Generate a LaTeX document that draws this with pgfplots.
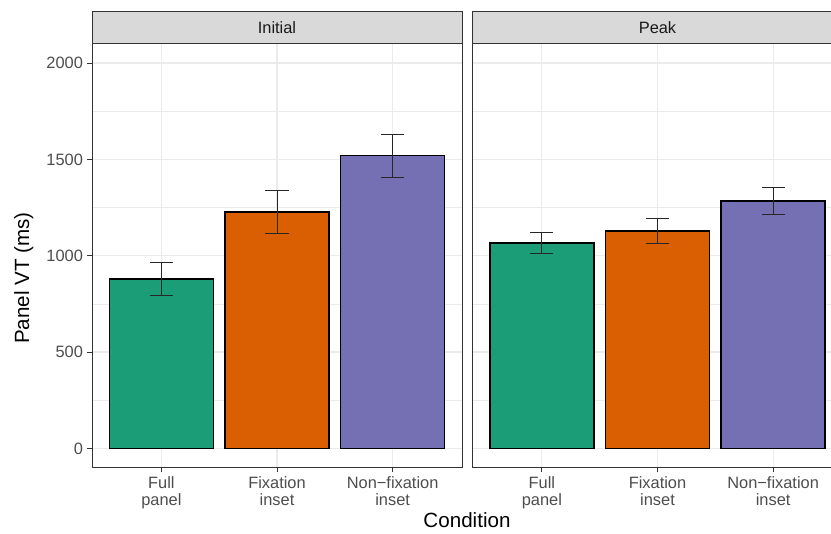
\documentclass[border=0pt]{standalone}
\usepackage{fontspec}
\setmainfont{Liberation Sans}
\usepackage{pgfplots}
\pgfplotsset{compat=1.18}
\definecolor{dgreen}{HTML}{1B9E77}
\definecolor{dorange}{HTML}{D95F02}
\definecolor{dpurple}{HTML}{7570B3}
\definecolor{gridc}{HTML}{EBEBEB}
\definecolor{gtwenty}{HTML}{333333}
\definecolor{gthirty}{HTML}{4D4D4D}
\definecolor{stripc}{HTML}{D9D9D9}
\definecolor{gten}{HTML}{1A1A1A}
\newcommand{\tickfont}{\fontsize{16.4}{17}\selectfont}
\newcommand{\titlefont}{\fontsize{20.6}{22}\selectfont}
\pgfplotsset{
  panel/.style={
    scale only axis, width=370pt, height=423.5pt,
    xmin=0.4, xmax=3.6, ymin=-99, ymax=2099,
    xtick={1,2,3},
    xticklabels={{Full\\panel},{Fixation\\inset},{Non−fixation\\inset}},
    xticklabel style={align=center, font=\tickfont, text=gthirty, yshift=-0.5pt},
    yticklabel style={font=\tickfont, text=gthirty, xshift=-0.5pt},
    ytick={0,500,1000,1500,2000},
    minor ytick={250,750,1250,1750},
    minor tick length=0pt,
    major tick length=5pt,
    tick align=outside, tick pos=left,
    tick style={gtwenty, line width=0.9pt},
    axis line style={gtwenty, line width=1pt},
    grid=both,
    major grid style={gridc, line width=1.2pt},
    minor grid style={gridc, line width=0.6pt},
    /pgf/number format/assume math mode=true,
    /pgf/number format/set thousands separator={},
    ybar, bar width=0.9,
  },
  barp/.style={fill=#1, draw=black, line width=1.4pt, bar shift=0pt,
    /pgfplots/error bars/y dir=both,
    /pgfplots/error bars/y explicit,
    /pgfplots/error bars/error bar style={black!85, line width=0.9pt},
    /pgfplots/error bars/error mark options={black!85, line width=0.9pt, mark size=11.6pt, rotate=90}},
}
\begin{document}
\begin{tikzpicture}
\path[use as bounding box, clip] (0pt,0pt) rectangle (831pt,534pt);
\fill[white] (0pt,0pt) rectangle (831pt,534pt);
\begin{axis}[panel, name=ax1, at={(92pt,66.5pt)}, anchor=south west]
\addplot[barp=dgreen] coordinates {(1,880) +- (0,87)};
\addplot[barp=dorange] coordinates {(2,1228) +- (0,110)};
\addplot[barp=dpurple] coordinates {(3,1519) +- (0,113)};
\end{axis}
\begin{axis}[panel, name=ax2, at={(472.5pt,66.5pt)}, anchor=south west, yticklabels={}, ytick style={draw=none}]
\addplot[barp=dgreen] coordinates {(1,1066) +- (0,54)};
\addplot[barp=dorange] coordinates {(2,1129) +- (0,67)};
\addplot[barp=dpurple] coordinates {(3,1285) +- (0,71)};
\end{axis}
\foreach \ax/\lab in {ax1/Initial, ax2/Peak}{
  \draw[fill=stripc, draw=gtwenty, line width=1pt] (\ax.north west) rectangle ([yshift=32pt]\ax.north east);
  \node[font=\tickfont, text=gten] at ([yshift=16pt]\ax.north) {\lab};
}
\node[font=\titlefont, anchor=base] at (467pt,6pt) {Condition};
\node[font=\titlefont, rotate=90, anchor=base] at (29pt,256pt) {Panel VT (ms)};
\end{tikzpicture}
\end{document}
